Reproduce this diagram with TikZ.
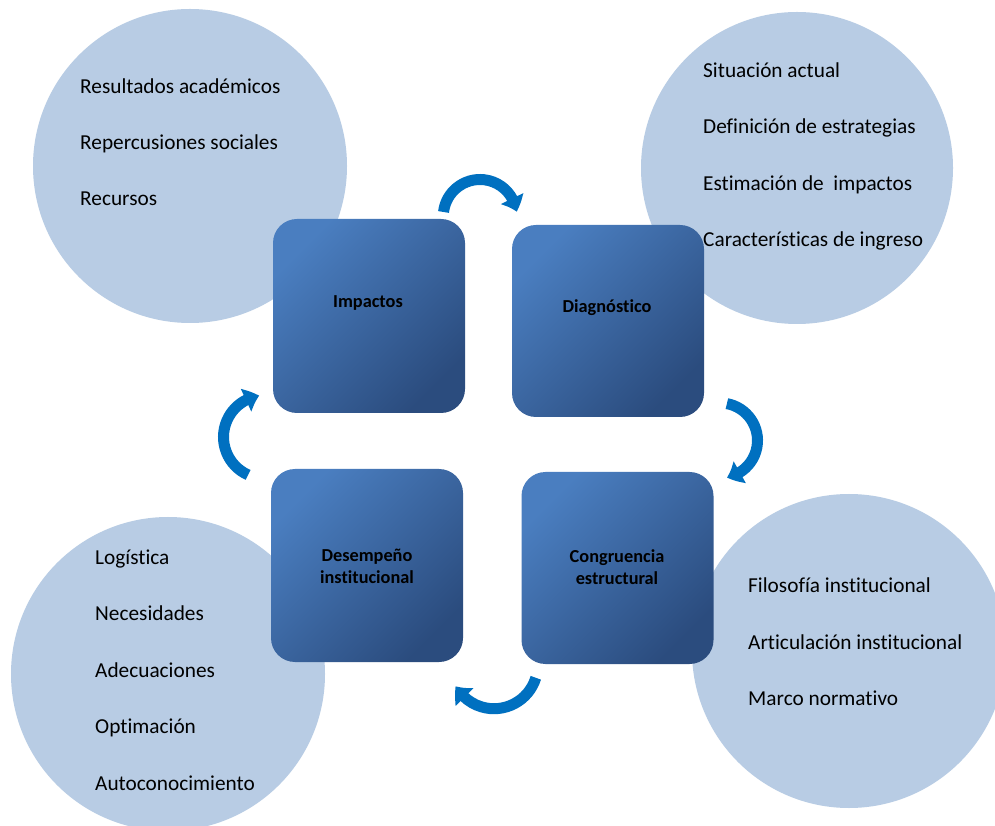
\documentclass[tikz,border=0pt]{standalone}
\usepackage{fontspec}
\setmainfont{Carlito}[RawFeature={-liga;-clig;-calt;-dlig}]
\usetikzlibrary{arrows.meta,bending}
\definecolor{circfill}{HTML}{B8CCE4}
\definecolor{boxlight}{HTML}{4A7EC0}
\definecolor{boxdark}{HTML}{2B4C7E}
\definecolor{arrowblue}{HTML}{0070C0}
\begin{document}
\begin{tikzpicture}[x=1pt,y=1pt,
  bubble/.style={circle, fill=circfill, inner sep=0pt},
  stage/.style={rectangle, rounded corners=24pt, inner sep=0pt,
    top color=boxlight, bottom color=boxdark, shading angle=45,
    minimum width=192pt},
  item/.style={anchor=base west, inner sep=0pt, font=\fontsize{21.3pt}{25pt}\selectfont},
  stagetext/.style={anchor=base, inner sep=0pt, text=black, font=\fontsize{18.3pt}{22pt}\selectfont\bfseries},
  cyc/.style={draw=arrowblue, line width=11pt, -{Triangle[length=14pt,width=24pt,bend]}}
]
\clip (0,0) rectangle (995,825);
\fill[white] (0,0) rectangle (995,825);

% circles
\node[bubble, minimum size=314pt] (c-imp) at (190,659) {};
\node[bubble, minimum size=312pt] (c-diag) at (797,657) {};
\node[bubble, minimum size=314pt] (c-des) at (168,151) {};
\node[bubble, minimum size=314pt] (c-cong) at (849,174) {};

% boxes
\node[stage, minimum height=194pt] (imp) at (369,509) {};
\node[stage, minimum height=192pt] (diag) at (608,504) {};
\node[stage, minimum height=193pt] (des) at (367,259.5) {};
\node[stage, minimum height=192pt] (cong) at (617.5,257) {};

% box labels
\node[stagetext] (imp-l) at (368,517.7) {Impactos};
\node[stagetext] (diag-l) at (607,512) {Diagnóstico};
\node[stagetext] (des-l1) at (367,263.3) {Desempeño};
\node[stagetext] (des-l2) at (367,241.7) {institucional};
\node[stagetext] (cong-l1) at (617,262.3) {Congruencia};
\node[stagetext] (cong-l2) at (617,241) {estructural};

% circle items
\node[item] (i1) at (80,731.5) {Resultados académicos};
\node[item] (i2) at (80,675.3) {Repercusiones sociales};
\node[item] (i3) at (80,619.1) {Recursos};

\node[item] (d1) at (703,747.5) {Situación actual};
\node[item] (d2) at (703,691.1) {Definición de estrategias};
\node[item] (d3) at (703,634.7) {Estimación de\ \ impactos};
\node[item] (d4) at (703,578.3) {Características de ingreso};

\node[item] (e1) at (95,261) {Logística};
\node[item] (e2) at (95,204.5) {Necesidades};
\node[item] (e3) at (95,148) {Adecuaciones};
\node[item] (e4) at (95,91.5) {Optimación};
\node[item] (e5) at (95,35) {Autoconocimiento};

\node[item] (f1) at (748,232.3) {Filosofía institucional};
\node[item] (f2) at (748,176) {Articulación institucional};
\node[item] (f3) at (748,120) {Marco normativo};

% cycle arrows
\coordinate (a1) at (480,608.8);
\coordinate (a2) at (720,384.5);
\coordinate (a3) at (494,160);
\coordinate (a4) at (265,388);
\draw[cyc] ([shift={(173.4:36.7)}]a1) arc[start angle=173.4, end angle=7, radius=36.7];
\draw[cyc] ([shift={(79.4:37.5)}]a2) arc[start angle=79.4, end angle=-79.4, radius=37.5];
\draw[cyc] ([shift={(-17:43.7)}]a3) arc[start angle=-17, end angle=-151, radius=43.7];
\draw[cyc] ([shift={(246:41.5)}]a4) arc[start angle=246, end angle=98, radius=41.5];
\end{tikzpicture}
\end{document}
